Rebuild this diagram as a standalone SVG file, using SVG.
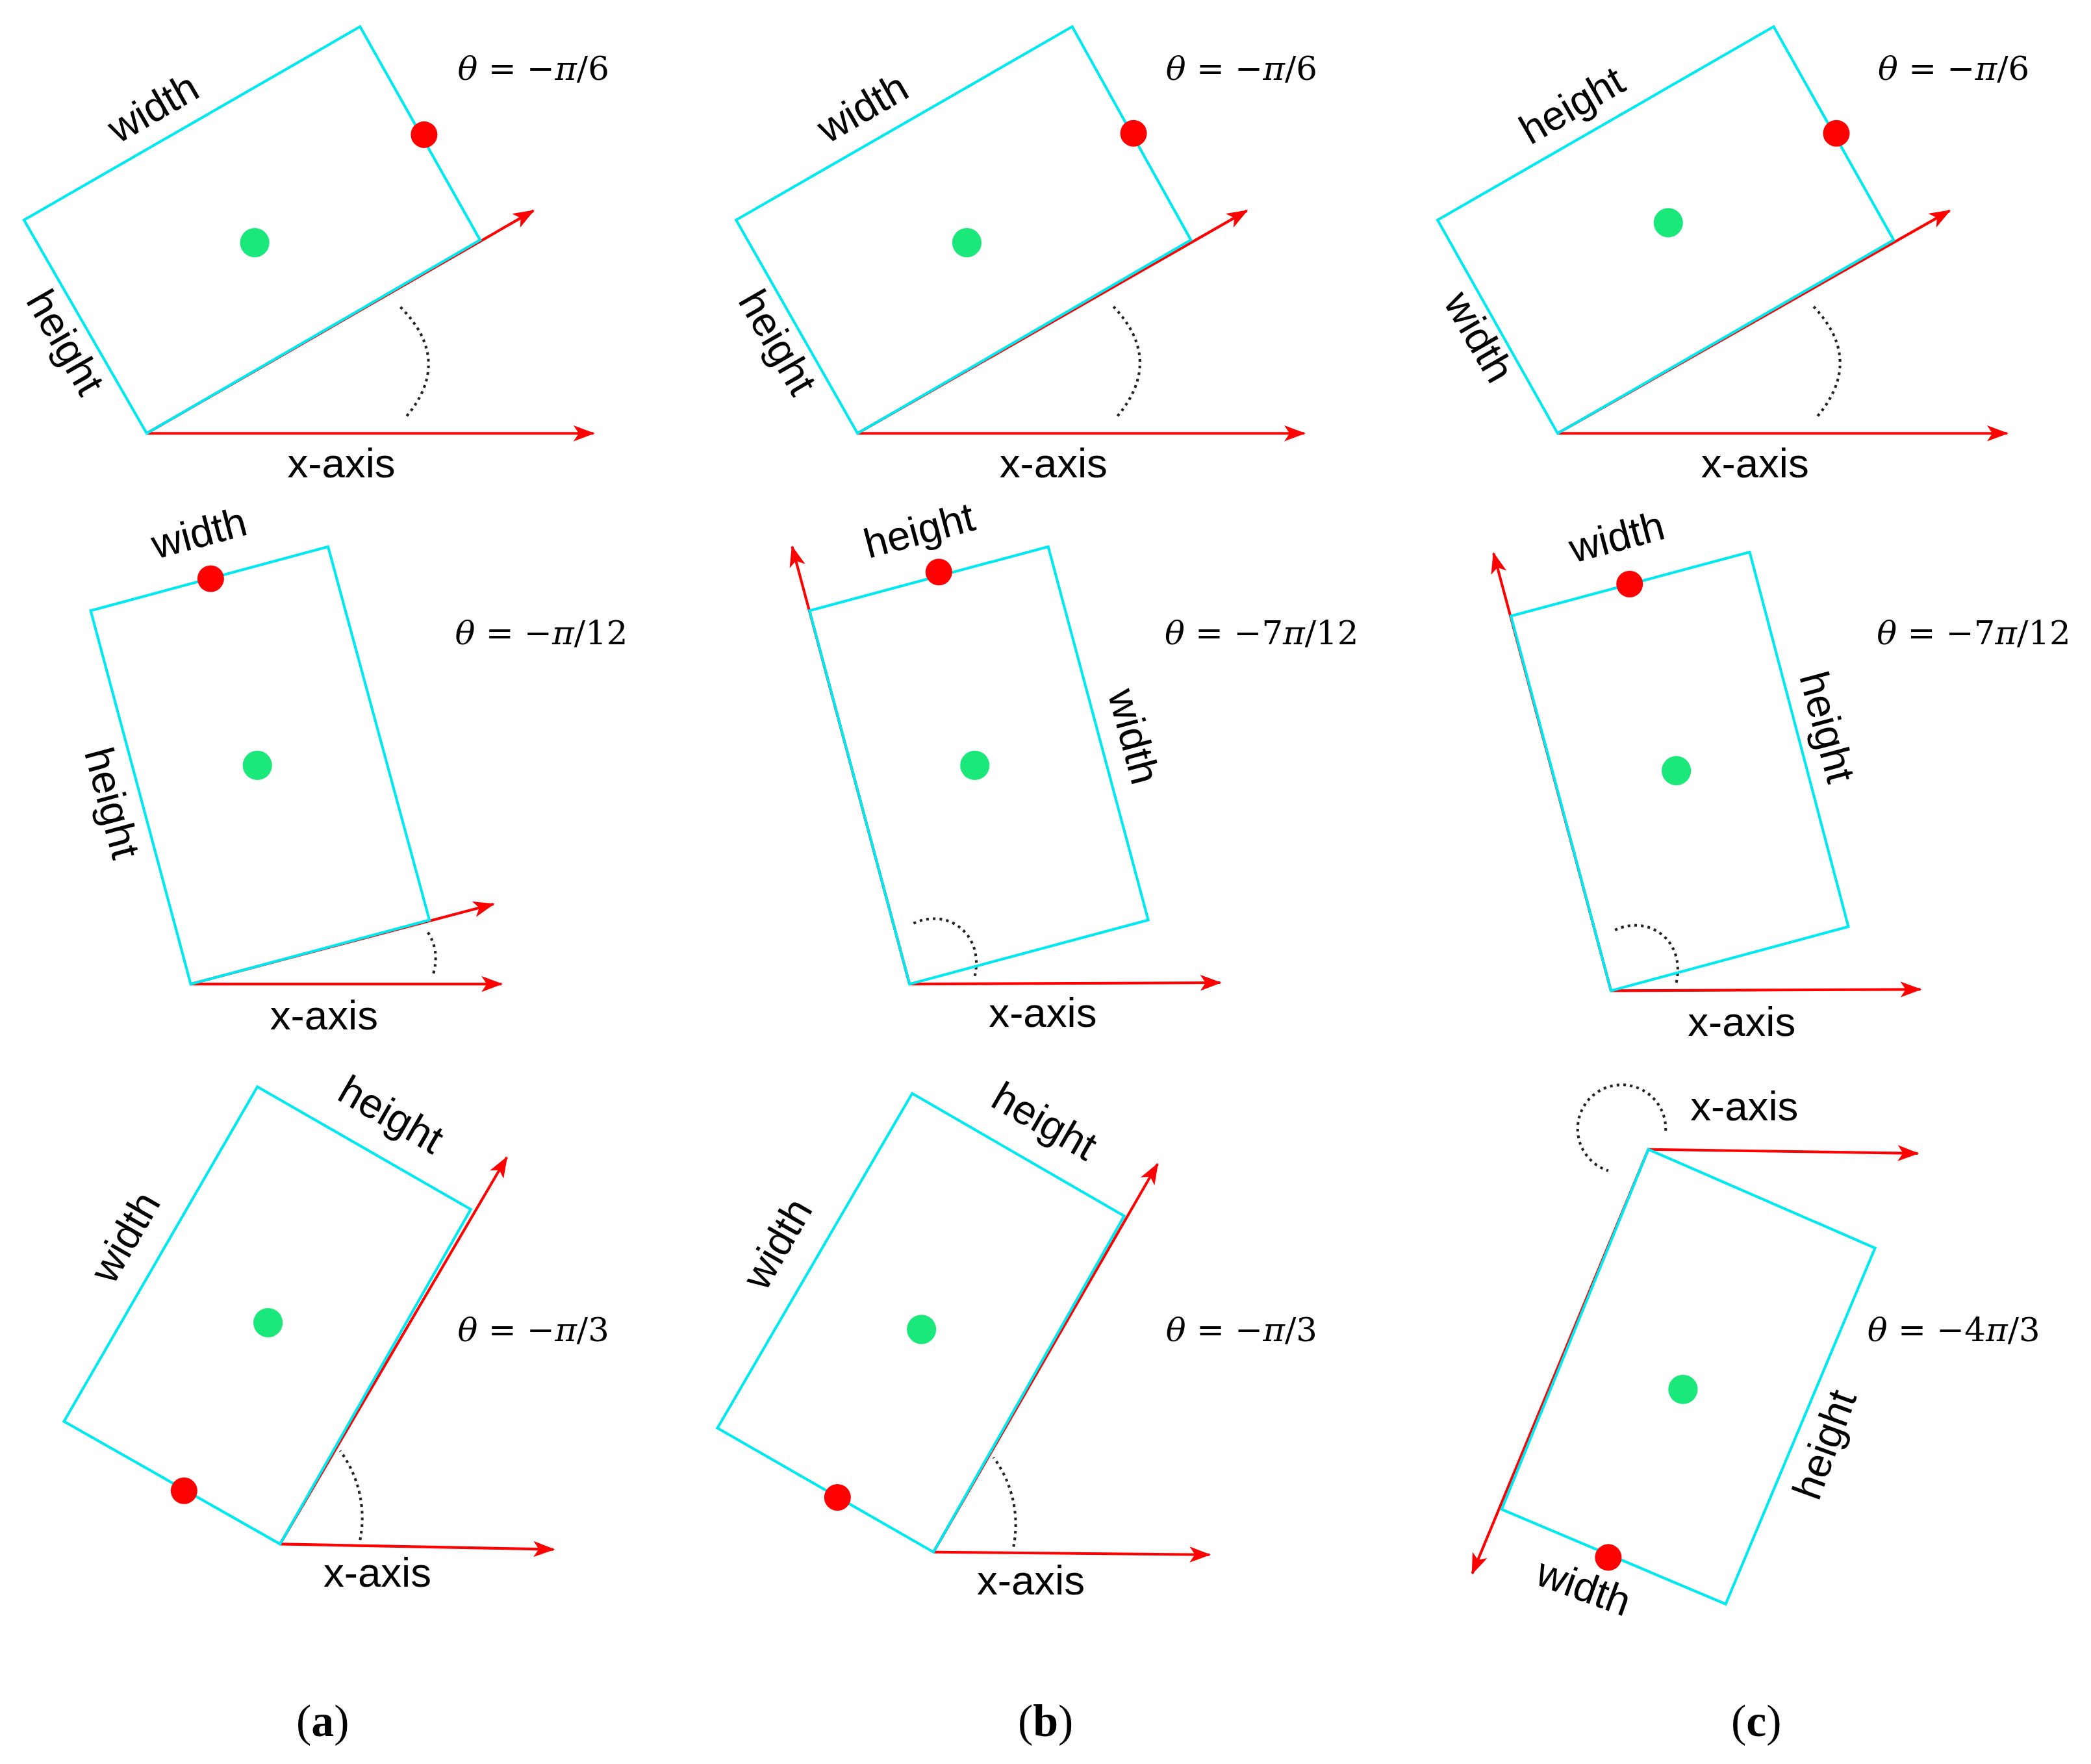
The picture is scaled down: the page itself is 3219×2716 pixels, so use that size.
<svg xmlns="http://www.w3.org/2000/svg" width="3219" height="2716" viewBox="0 0 3219 2716">
<style>
.r{fill:none;stroke:#00e8f0;stroke-width:2}
.a{stroke:#ff0000;stroke-width:2;fill:none;marker-end:url(#h)}
.d{fill:none;stroke:#222;stroke-width:2;stroke-dasharray:2 3}
.rd{fill:#ff0000}.gd{fill:#1be87a}
.l{font-family:"Liberation Sans",Arial,sans-serif;font-size:31px;fill:#000;text-anchor:middle}
.t{font-family:"DejaVu Serif","Liberation Serif",serif;font-size:25px;fill:#000;text-anchor:middle}
.c{font-family:"Liberation Serif",serif;font-size:34px;fill:#000;text-anchor:middle}
</style>
<defs><marker id="h" markerWidth="16" markerHeight="12" refX="15" refY="6" orient="auto" markerUnits="userSpaceOnUse"><path d="M0,0 L16,6 L0,12 L4,6 Z" fill="#ff0000"/></marker></defs>
<rect width="3219" height="2716" fill="#fff"/>
<g transform="scale(2.053)">
<g id="connectors">
<path class="a" d="M110,325 L400,158"/><path class="a" d="M110,325 L445,325"/><path class="d" d="M305,312 Q340,270 300,230"/>
<path class="a" d="M643,325 L935,158"/><path class="a" d="M643,325 L978,325"/><path class="d" d="M838,312 Q873,270 835,230"/>
<path class="a" d="M1168,325 L1462,158"/><path class="a" d="M1168,325 L1505,325"/><path class="d" d="M1363,312 Q1398,270 1360,230"/>
<path class="a" d="M143,738 L370,678"/><path class="a" d="M143,738 L376,738"/><path class="d" d="M325,730 Q330,712 320,698"/>
<path class="a" d="M682,738 L594,410"/><path class="a" d="M682,738 L915,737"/><path class="d" d="M731,732 C738,700 710,680 684,693"/>
<path class="a" d="M1208,743 L1120,415"/><path class="a" d="M1208,743 L1440,742"/><path class="d" d="M1257,737 C1264,705 1236,685 1210,698"/>
<path class="a" d="M210,1158 L380,868"/><path class="a" d="M210,1158 L415,1162"/><path class="d" d="M270,1155 A85,85 0 0 0 255,1088"/>
<path class="a" d="M700,1164 L868,873"/><path class="a" d="M700,1164 L907,1166"/><path class="d" d="M760,1160 A85,85 0 0 0 745,1093"/>
<path class="a" d="M1236,862 L1438,865"/><path class="a" d="M1236,862 L1104,1180"/><path class="d" d="M1249,848 A33,33 0 1 0 1206,878"/>
</g>
<g id="a1"><polygon class="r" points="18,165 270,20 360,180 110,325"/><circle class="rd" cx="318" cy="101" r="10"/><circle class="gd" cx="191" cy="182" r="11"/>
<text class="l" transform="translate(120,90) rotate(-30)">width</text><text class="l" transform="translate(40,262) rotate(60)">height</text><text class="l" x="256" y="358">x-axis</text><text class="t" x="400" y="60"><tspan font-style="italic">θ</tspan> = −<tspan font-style="italic">π</tspan>/6</text></g>
<g id="b1"><polygon class="r" points="552,165 804,20 893,180 643,325"/><circle class="rd" cx="850" cy="100" r="10"/><circle class="gd" cx="725" cy="182" r="11"/>
<text class="l" transform="translate(652,90) rotate(-30)">width</text><text class="l" transform="translate(574,262) rotate(60)">height</text><text class="l" x="790" y="358">x-axis</text><text class="t" x="931" y="60"><tspan font-style="italic">θ</tspan> = −<tspan font-style="italic">π</tspan>/6</text></g>
<g id="c1"><polygon class="r" points="1078,165 1330,20 1420,180 1168,325"/><circle class="rd" cx="1377" cy="100" r="10"/><circle class="gd" cx="1251" cy="167" r="11"/>
<text class="l" transform="translate(1184,88) rotate(-30)">height</text><text class="l" transform="translate(1100,258) rotate(60)">width</text><text class="l" x="1316" y="358">x-axis</text><text class="t" x="1465" y="60"><tspan font-style="italic">θ</tspan> = −<tspan font-style="italic">π</tspan>/6</text></g>
<g id="a2"><polygon class="r" points="68,458 246,410 322,690 143,738"/><circle class="rd" cx="158" cy="434" r="10"/><circle class="gd" cx="193" cy="574" r="11"/>
<text class="l" transform="translate(152,410) rotate(-15)">width</text><text class="l" transform="translate(74,605) rotate(75)">height</text><text class="l" x="243" y="772">x-axis</text><text class="t" x="406" y="483"><tspan font-style="italic">θ</tspan> = −<tspan font-style="italic">π</tspan>/12</text></g>
<g id="b2"><polygon class="r" points="607,458 786,410 861,690 682,738"/><circle class="rd" cx="704" cy="429" r="10"/><circle class="gd" cx="731" cy="574" r="11"/>
<text class="l" transform="translate(692,408) rotate(-15)">height</text><text class="l" transform="translate(840,555) rotate(75)">width</text><text class="l" x="782" y="770">x-axis</text><text class="t" x="946" y="483"><tspan font-style="italic">θ</tspan> = −7<tspan font-style="italic">π</tspan>/12</text></g>
<g id="c2"><polygon class="r" points="1133,462 1312,414 1386,695 1208,743"/><circle class="rd" cx="1222" cy="438" r="10"/><circle class="gd" cx="1257" cy="578" r="11"/>
<text class="l" transform="translate(1215,413) rotate(-15)">width</text><text class="l" transform="translate(1360,548) rotate(75)">height</text><text class="l" x="1306" y="777">x-axis</text><text class="t" x="1480" y="483"><tspan font-style="italic">θ</tspan> = −7<tspan font-style="italic">π</tspan>/12</text></g>
<g id="a3"><polygon class="r" points="48,1066 193,815 353,907 210,1158"/><circle class="rd" cx="138" cy="1118" r="10"/><circle class="gd" cx="201" cy="992" r="11"/>
<text class="l" transform="translate(103,933) rotate(-60)">width</text><text class="l" transform="translate(288,845) rotate(30)">height</text><text class="l" x="283" y="1190">x-axis</text><text class="t" x="400" y="1006"><tspan font-style="italic">θ</tspan> = −<tspan font-style="italic">π</tspan>/3</text></g>
<g id="b3"><polygon class="r" points="538,1071 684,820 843,912 700,1164"/><circle class="rd" cx="628" cy="1123" r="10"/><circle class="gd" cx="691" cy="997" r="11"/>
<text class="l" transform="translate(592,938) rotate(-60)">width</text><text class="l" transform="translate(778,850) rotate(30)">height</text><text class="l" x="773" y="1196">x-axis</text><text class="t" x="931" y="1006"><tspan font-style="italic">θ</tspan> = −<tspan font-style="italic">π</tspan>/3</text></g>
<g id="c3"><polygon class="r" points="1126,1132 1236,862 1406,936 1294,1203"/><circle class="rd" cx="1206" cy="1168" r="10"/><circle class="gd" cx="1262" cy="1042" r="11"/>
<text class="l" x="1308" y="840">x-axis</text><text class="l" transform="translate(1378,1087) rotate(-70)">height</text><text class="l" transform="translate(1184,1200) rotate(20)">width</text><text class="t" x="1465" y="1006"><tspan font-style="italic">θ</tspan> = −4<tspan font-style="italic">π</tspan>/3</text></g>
<g id="captions"><text class="c" x="242" y="1302">(<tspan font-weight="bold">a</tspan>)</text><text class="c" x="784" y="1302">(<tspan font-weight="bold">b</tspan>)</text><text class="c" x="1317" y="1302">(<tspan font-weight="bold">c</tspan>)</text></g>
</g>
</svg>
